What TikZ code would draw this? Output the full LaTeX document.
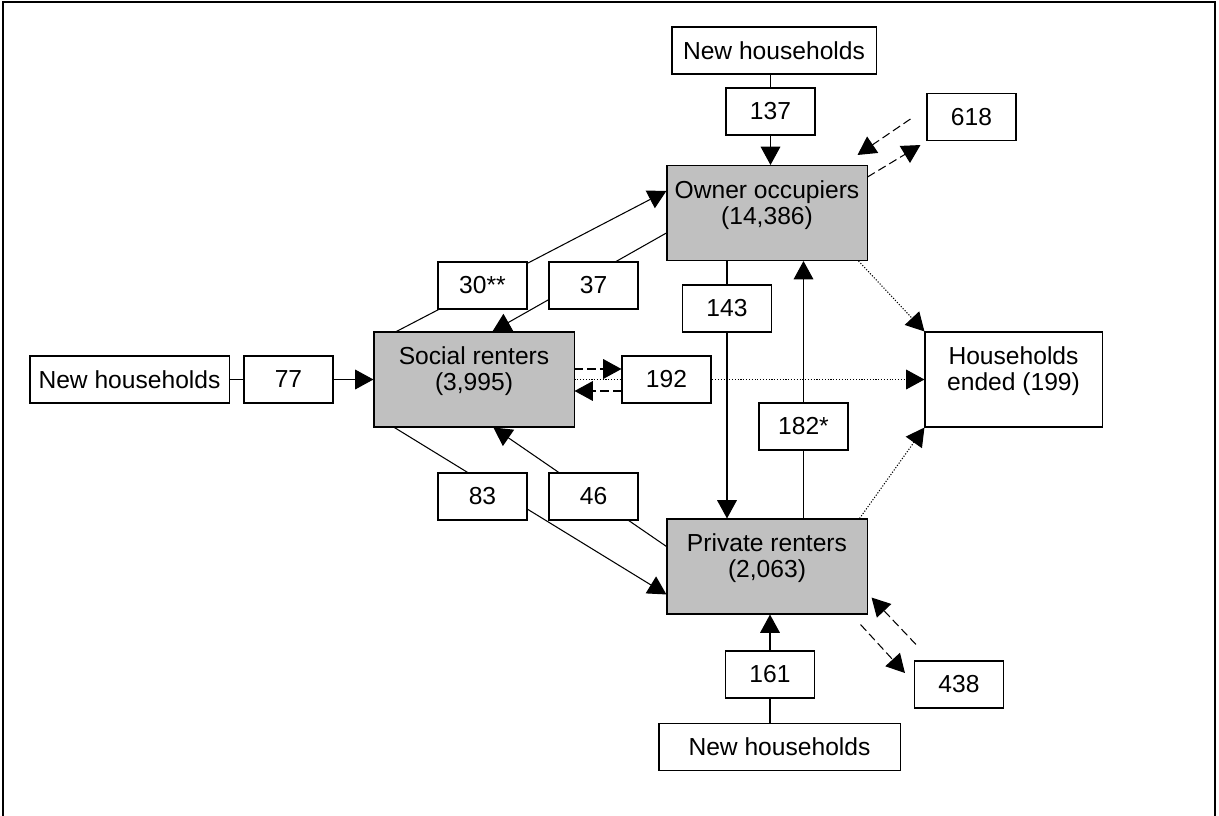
\documentclass[tikz,border=0pt]{standalone}
\usepackage{fontspec}
\setmainfont{Liberation Sans}
\usetikzlibrary{arrows.meta,calc,backgrounds}

\definecolor{boxgray}{HTML}{C0C0C0}

\tikzset{
    mainbox/.style={draw, fill=boxgray, line width=0.75pt, minimum width=5cm, minimum height=2.375cm, align=center, text depth=15pt, inner sep=0pt},
    endbox/.style={mainbox, fill=white, minimum width=4.425cm},
    newbox/.style={draw, fill=white, line width=0.75pt, minimum height=1.175cm, inner sep=0pt},
    numbox/.style={draw, fill=white, line width=0.75pt, minimum width=2.225cm, minimum height=1.175cm, inner sep=0pt},
    flow/.style={line width=0.75pt, -{Triangle[length=13pt,width=14pt]}},
    moveflow/.style={flow, dash pattern=on 6pt off 3pt},
    endflow/.style={flow, dash pattern=on 0.8pt off 1.2pt},
}

\begin{document}
\begin{tikzpicture}[x=0.025cm, y=-0.025cm, font=\fontsize{17.5}{18.5}\selectfont]
    \useasboundingbox (0,0) rectangle (1219,816);
    \draw[line width=1.5pt] (3,816) -- (3,2) -- (1215,2) -- (1215,816);

    % tenure groups
    \node[mainbox] (owner) at (767,213) {Owner occupiers\\(14,386)};
    \node[mainbox] (social) at (474,379.5) {Social renters\\(3,995)};
    \node[mainbox] (private) at (767,566.5) {Private renters\\(2,063)};
    \node[endbox] (ended) at (1013.5,379.5) {Households\\ended (199)};

    % new households
    \node[newbox, minimum width=5.1cm] (newtop) at (774,50.5) {New households};
    \node[newbox, minimum width=4.975cm] (newleft) at (129.5,379.5) {New households};
    \node[newbox, minimum width=6.025cm] (newbottom) at (779.5,747) {New households};

    % counts
    \node[numbox] (n137) at (770.5,111.5) {137};
    \node[numbox] (n618) at (971.5,117) {618};
    \node[numbox] (n30) at (482.5,285.5) {30**};
    \node[numbox] (n37) at (593.5,285.5) {37};
    \node[numbox] (n143) at (727,308.5) {143};
    \node[numbox] (n77) at (288.5,379.5) {77};
    \node[numbox] (n192) at (666.5,379.5) {192};
    \node[numbox] (n182) at (803.5,426.5) {182*};
    \node[numbox] (n83) at (482.5,496.5) {83};
    \node[numbox] (n46) at (593.5,496.5) {46};
    \node[numbox] (n161) at (770,674.5) {161};
    \node[numbox] (n438) at (959,684.5) {438};

    \begin{scope}[on background layer]
        \draw[flow] (newtop.south -| n137.center) -- (owner.north -| n137.center);
        \draw[flow] (newleft.east) -- (social.west);
        \draw[flow] (newbottom.north -| n161.center) -- (private.south -| n161.center);
        \draw[flow] ($(social.north west)+(23,0)$) -- ($(owner.north west)+(0,26)$);
        \draw[flow] ($(owner.north west)+(0,68)$) -- ($(social.north west)+(119,0)$);
        \draw[flow] ($(social.south west)+(21,0)$) -- ($(private.north west)+(0,76)$);
        \draw[flow] ($(private.north west)+(0,28)$) -- ($(social.south west)+(120,0)$);
        \draw[flow] (owner.south -| n143.center) -- (private.north -| n143.center);
        \draw[flow] (private.north -| n182.center) -- (owner.south -| n182.center);
        % moves in and out
        \draw[moveflow] ($(social.east)+(0,-10.5)$) -- ($(n192.west)+(0,-10.5)$);
        \draw[moveflow] ($(n192.west)+(0,11.5)$) -- ($(social.east)+(0,11.5)$);
        \draw[moveflow] ($(n618.west)+(-16,2)$) -- ($(owner.north east)+(-10,-10)$);
        \draw[moveflow] ($(owner.north east)+(0,12)$) -- ($(n618.south west)+(-6,4)$);
        \draw[moveflow] ($(n438.north west)+(2,-16)$) -- ($(private.south east)+(4,-17)$);
        \draw[moveflow] ($(private.south east)+(-7,10)$) -- ($(n438.west)+(-9,-11.5)$);
        % households ended
        \draw[endflow] (social.east) -- (ended.west);
        \draw[endflow] ($(owner.south east)+(-9,0)$) -- (ended.north west);
        \draw[endflow] ($(private.north east)+(-8,0)$) -- (ended.south west);
    \end{scope}
\end{tikzpicture}
\end{document}
